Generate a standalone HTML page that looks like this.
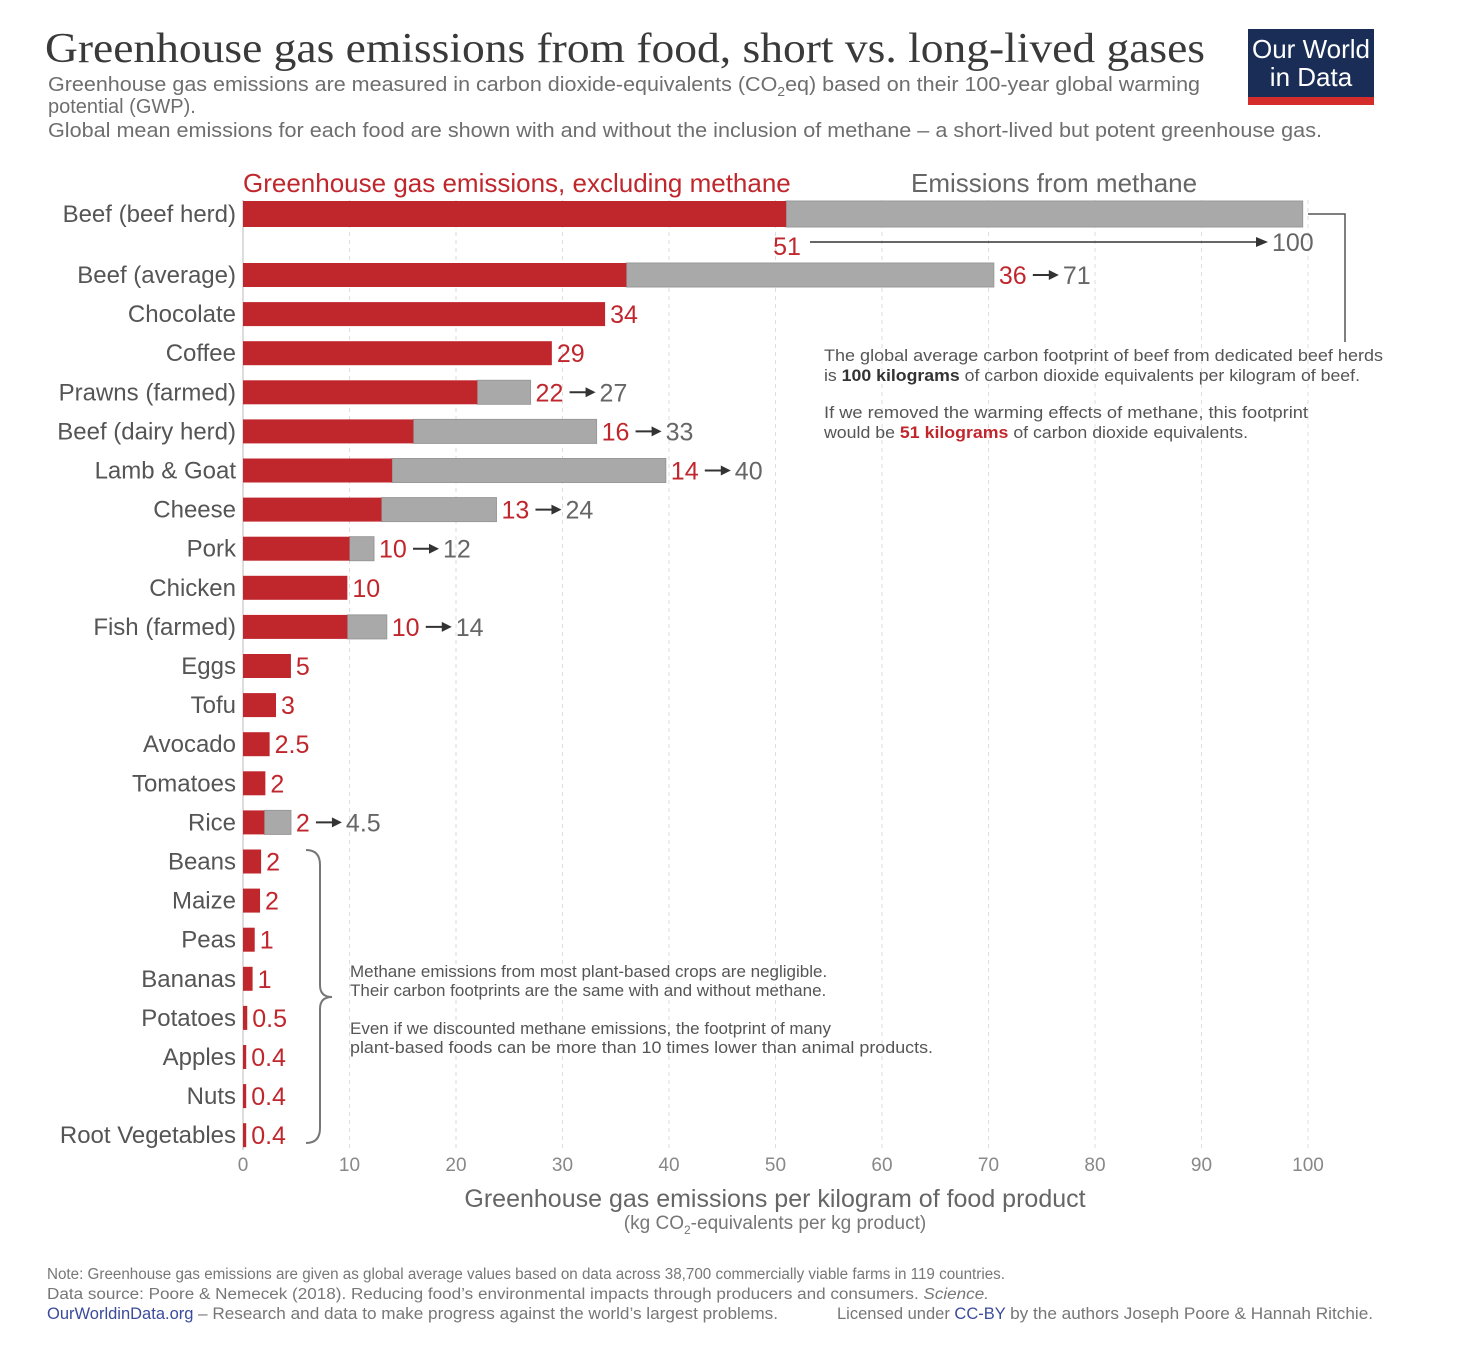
<!DOCTYPE html>
<html><head><meta charset="utf-8"><style>
body{margin:0;background:#fff}
svg text{font-family:"Liberation Sans",sans-serif}
</style></head><body>
<svg id="chart" width="1472" height="1350" xmlns="http://www.w3.org/2000/svg">
<text x="45" y="62" font-size="42" fill="#3a3a3a" textLength="1160" lengthAdjust="spacingAndGlyphs" style="font-family:'Liberation Serif',serif">Greenhouse gas emissions from food, short vs. long-lived gases</text>
<g font-size="20" fill="#6e6e6e">
<text x="48" y="91" textLength="1152" lengthAdjust="spacingAndGlyphs">Greenhouse gas emissions are measured in carbon dioxide-equivalents (CO<tspan font-size="13" dy="5">2</tspan><tspan dy="-5">eq) based on their 100-year global warming</tspan></text>
<text x="48" y="113">potential (GWP).</text>
<text x="48" y="137" textLength="1274" lengthAdjust="spacingAndGlyphs">Global mean emissions for each food are shown with and without the inclusion of methane – a short-lived but potent greenhouse gas.</text>
</g>
<g>
<rect x="1248" y="29" width="126" height="76" fill="#1a2d57"/>
<rect x="1248" y="97" width="126" height="8" fill="#d42b2b"/>
<text x="1311" y="58" font-size="26" fill="#fff" text-anchor="middle">Our World</text>
<text x="1311" y="86" font-size="26" fill="#fff" text-anchor="middle">in Data</text>
</g>
<text x="243" y="192" font-size="26" fill="#c0272d">Greenhouse gas emissions, excluding methane</text>
<text x="911" y="192" font-size="26" fill="#666">Emissions from methane</text>
<g id="grid"></g><g id="bars"></g><g id="labels"></g><g id="ticks"></g>
<g>
<text x="787" y="255" font-size="25" fill="#c0272d" text-anchor="middle">51</text>
<line x1="810" y1="242" x2="1258" y2="242" stroke="#333" stroke-width="1.5"/>
<polygon points="1268,242 1256,237 1256,247" fill="#333"/>
<text x="1272" y="251" font-size="25" fill="#666">100</text>
<polyline points="1308,214 1345,214 1345,342" fill="none" stroke="#555" stroke-width="1.5"/>
<g font-size="17" fill="#555">
<text x="824" y="361" textLength="559" lengthAdjust="spacingAndGlyphs">The global average carbon footprint of beef from dedicated beef herds</text>
<text x="824" y="381" textLength="536" lengthAdjust="spacingAndGlyphs">is <tspan font-weight="bold" fill="#333">100 kilograms</tspan> of carbon dioxide equivalents per kilogram of beef.</text>
<text x="824" y="418" textLength="484" lengthAdjust="spacingAndGlyphs">If we removed the warming effects of methane, this footprint</text>
<text x="824" y="438" textLength="424" lengthAdjust="spacingAndGlyphs">would be <tspan font-weight="bold" fill="#c0272d">51 kilograms</tspan> of carbon dioxide equivalents.</text>
</g></g>
<g>
<path d="M306,850 Q320,850 320,865 L320,985 Q320,997 332,997 Q320,997 320,1009 L320,1128 Q320,1143 306,1143" fill="none" stroke="#777" stroke-width="2"/>
<g font-size="17" fill="#555">
<text x="350" y="977">Methane emissions from most plant-based crops are negligible.</text>
<text x="350" y="996">Their carbon footprints are the same with and without methane.</text>
<text x="350" y="1034">Even if we discounted methane emissions, the footprint of many</text>
<text x="350" y="1053" textLength="583" lengthAdjust="spacingAndGlyphs">plant-based foods can be more than 10 times lower than animal products.</text>
</g></g>
<text x="775" y="1207" font-size="25" fill="#666" text-anchor="middle">Greenhouse gas emissions per kilogram of food product</text>
<text x="775" y="1229" font-size="19" fill="#777" text-anchor="middle">(kg CO<tspan font-size="12" dy="5">2</tspan><tspan dy="-5">-equivalents per kg product)</tspan></text>
<g font-size="15.5" fill="#777">
<text x="47" y="1279" textLength="958" lengthAdjust="spacingAndGlyphs">Note: Greenhouse gas emissions are given as global average values based on data across 38,700 commercially viable farms in 119 countries.</text>
<text x="47" y="1299" textLength="942" lengthAdjust="spacingAndGlyphs">Data source: Poore &amp; Nemecek (2018). Reducing food’s environmental impacts through producers and consumers. <tspan font-style="italic">Science.</tspan></text>
<text x="47" y="1319" font-size="16.5"><tspan fill="#3b4b9b">OurWorldinData.org</tspan> <tspan textLength="580" lengthAdjust="spacingAndGlyphs">– Research and data to make progress against the world’s largest problems.</tspan></text>
<text x="837" y="1319" font-size="16.5">Licensed under <tspan fill="#3b4b9b">CC-BY</tspan> <tspan textLength="363" lengthAdjust="spacingAndGlyphs">by the authors Joseph Poore &amp; Hannah Ritchie.</tspan></text>
</g>
</svg>
<script>
const categories=["Beef (beef herd)","Beef (average)","Chocolate","Coffee","Prawns (farmed)","Beef (dairy herd)","Lamb & Goat","Cheese","Pork","Chicken","Fish (farmed)","Eggs","Tofu","Avocado","Tomatoes","Rice","Beans","Maize","Peas","Bananas","Potatoes","Apples","Nuts","Root Vegetables"];
const excludingMethane=[51,36,34,29,22,16,14,13,10,9.8,9.8,4.5,3.1,2.5,2.1,2,1.7,1.6,1.1,0.9,0.4,0.3,0.3,0.3];
const totalWithMethane=[99.5,70.5,34,29,27,33.2,39.7,23.8,12.3,9.8,13.5,4.5,3.1,2.5,2.1,4.5,1.7,1.6,1.1,0.9,0.4,0.3,0.3,0.3];
const labelExcl=["","36","34","29","22","16","14","13","10","10","10","5","3","2.5","2","2","2","2","1","1","0.5","0.4","0.4","0.4"];
const labelTotal=["","71","","","27","33","40","24","12","","14","","","","","4.5","","","","","","","",""];
const xTicks=[0,10,20,30,40,50,60,70,80,90,100];
const NS="http://www.w3.org/2000/svg";
const x0=243,xs=10.65;
const X=v=>x0+v*xs;
const Y=i=>i===0?214:275+(i-1)*39.1;
function mk(tag,attrs,parent){const e=document.createElementNS(NS,tag);for(const k in attrs)e.setAttribute(k,attrs[k]);parent.appendChild(e);return e;}
const grid=document.getElementById('grid'),bars=document.getElementById('bars'),labels=document.getElementById('labels'),ticks=document.getElementById('ticks');
xTicks.forEach(t=>{
  if(t>0){const l=mk('line',{x1:X(t),x2:X(t),y1:200,y2:1150,stroke:'#ddd','stroke-dasharray':'4,4'},grid);
  
  }
  const tx=mk('text',{x:X(t),y:1171,'font-size':19,fill:'#888','text-anchor':'middle'},ticks);tx.textContent=t;
  
  
});
mk('line',{x1:x0,x2:x0,y1:200,y2:1150,stroke:'#bbb'},grid);
categories.forEach((c,i)=>{
  const y=Y(i),h=i===0?26:24;
  const cl=mk('text',{x:236,y:y+8,'font-size':24,fill:'#555','text-anchor':'end'},labels);cl.textContent=c;
  
  
  if(totalWithMethane[i]>excludingMethane[i]){
    const g=mk('rect',{x:X(excludingMethane[i]),y:y-h/2,width:(totalWithMethane[i]-excludingMethane[i])*xs,height:h,fill:'#a9a9a9',stroke:'#999','stroke-width':1},bars);
    
    
  }
  const r=mk('rect',{x:x0,y:y-h/2,width:Math.max(excludingMethane[i]*xs,3),height:h,fill:'#c0272d'},bars);
  
  
  if(labelExcl[i]){
    const end=X(Math.max(totalWithMethane[i],excludingMethane[i]))+5;
    const t=mk('text',{x:end,y:y+9,'font-size':25,fill:'#c0272d'},labels);t.textContent=labelExcl[i];
    
    
    if(labelTotal[i]){
      const w=labelExcl[i].length*14;
      const ax=end+w+6;
      mk('line',{x1:ax,x2:ax+18,y1:y,y2:y,stroke:'#333','stroke-width':2},labels);
      mk('polygon',{points:`${ax+26},${y} ${ax+16},${y-5} ${ax+16},${y+5}`,fill:'#333'},labels);
      const t2=mk('text',{x:ax+30,y:y+9,'font-size':25,fill:'#666'},labels);t2.textContent=labelTotal[i];
      
      
    }
  }
});
</script>
</body></html>
